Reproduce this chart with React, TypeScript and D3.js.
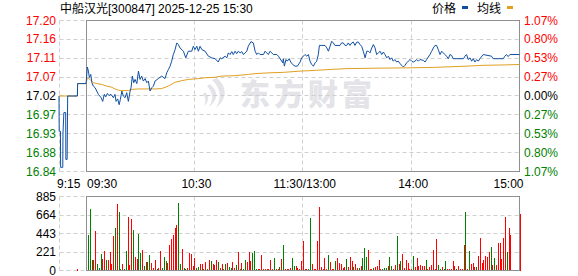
import React from 'react';
import * as d3 from 'd3';

const stockTitle = '中船汉光[300847] 2025-12-25 15:30';
const legendLabels = ['价格', '均线'];
const watermarkText = '东方财富';
const preClose = 17.02;
const pctRange = 0.0107;
const leftTickLabels = ['17.20', '17.16', '17.11', '17.07', '17.02', '16.97', '16.93', '16.88', '16.84'];
const rightTickLabels = ['1.07%', '0.80%', '0.53%', '0.27%', '0.00%', '0.27%', '0.53%', '0.80%', '1.07%'];
const timeLabels = ['9:15', '09:30', '10:30', '11:30/13:00', '14:00', '15:00'];
const timeLabelMinutes = [-15, 0, 60, 120, 180, 240];
const volumeTickLabels = ['885', '664', '443', '221', '0'];
const volumeMax = 885;

// pre-market (call auction) minutes relative to 09:30
const preTimes = [-15, -14.9, -14.2, -14.1, -12.9, -12.8, -12.3, -11.3, -11.2, -10.5, -10.2, -4.8, -4.7, 0];
const prePrices = [17.02, 16.935, 16.935, 16.848, 16.848, 16.93, 16.98, 16.98, 16.867, 16.867, 17.02, 17.02, 17.05, 17.05];
const preAvgTimes = [-15, -4.8, -4.7, 0];
const preAvgPrices = [17.02, 17.02, 17.05, 17.05];

// trading minutes: 0 = 09:30, 120 = 11:30/13:00, 240 = 15:00
const priceTimes = [
  0, 0.7, 1.3, 1.8, 2.6, 3.2, 4, 5, 5.9, 6.8, 8.3, 9.2, 10.1, 10.9, 11.8, 12.7, 13.8, 15.1, 16, 16.6,
  17.5, 18.3, 19, 19.8, 20.6, 21.6, 22.5, 23.4, 24.4, 24.9, 25.6, 26.4, 27.1, 28.1, 29, 29.9, 30.8, 31.7, 32.7, 33.6,
  34.5, 35.4, 36.4, 37.3, 38.2, 40, 41.9, 43.7, 44.7, 45.6, 46.5, 47.4, 48.3, 49.3, 50.2, 51.1, 52, 53.9, 55.2, 56.6,
  58.5, 59.4, 60.3, 61.3, 62.2, 63.1, 64.1, 65.9, 67.7, 69.6, 71.4, 73.2, 74.2, 75.1, 77, 77.9, 78.8, 79.7, 80.7, 81.5,
  82.5, 83.4, 84.3, 85.3, 86.2, 87.1, 88, 89, 89.8, 91.3, 92.6, 93.6, 94.5, 95.4, 96.3, 98.2, 99.1, 100, 100.9, 101.9,
  102.8, 103.7, 105.6, 106.5, 107.4, 108.3, 108.9, 109.2, 109.8, 110.7, 111.4, 112.5, 113.3, 114.4, 115.7, 117, 118.5, 119.4, 121.2, 122.2,
  123.1, 124, 124.9, 125.9, 126.8, 127.7, 128.6, 129.2, 130.5, 132.3, 133.3, 134.2, 135.1, 136, 136.9, 137.8, 140.6, 141.5, 142.4, 143.4,
  144.3, 145.2, 146.1, 147.1, 148, 148.9, 149.9, 150.8, 151.7, 152.6, 153.5, 154.5, 155.4, 156.3, 157.2, 158.2, 159.1, 160, 160.9, 161.8,
  162.8, 163.7, 164.6, 165.5, 166.5, 167.4, 168.3, 169.2, 170.1, 171, 172, 172.9, 173.8, 174.8, 175.7, 176.6, 177.5, 178.4, 179.4, 180.3,
  181.2, 182.1, 183.1, 184, 184.9, 186.7, 187.7, 188.6, 190.4, 191.4, 192.3, 193.2, 194.1, 195, 196, 196.9, 197.8, 198.7, 199.6, 200.6,
  201.5, 202.4, 203.3, 209, 209.8, 210.7, 211.6, 212.6, 213.5, 214.4, 215.3, 216.3, 217.2, 218.1, 219.9, 224.5, 225.4, 231, 231.9, 232.8,
  233.7, 234.7, 240,
];
const priceValues = [
  17.05, 17.09, 17.08, 17.065, 17.072, 17.052, 17.044, 17.04, 17.032, 17.024, 17.016, 17.007, 17.024, 17.018, 17.026, 17.021, 17.024, 17.016, 17.024, 17.007,
  17.013, 16.999, 17.012, 17.032, 17.02, 17.016, 17.028, 17.007, 17.032, 17.04, 17.068, 17.052, 17.06, 17.05, 17.08, 17.06, 17.068, 17.056, 17.062, 17.052,
  17.056, 17.032, 17.04, 17.044, 17.056, 17.062, 17.068, 17.062, 17.076, 17.084, 17.092, 17.104, 17.12, 17.132, 17.148, 17.144, 17.136, 17.128, 17.112, 17.128,
  17.128, 17.14, 17.132, 17.14, 17.128, 17.14, 17.132, 17.128, 17.116, 17.112, 17.11, 17.102, 17.112, 17.11, 17.116, 17.112, 17.124, 17.12, 17.127, 17.12,
  17.128, 17.122, 17.128, 17.124, 17.127, 17.12, 17.124, 17.128, 17.14, 17.151, 17.148, 17.128, 17.12, 17.124, 17.12, 17.12, 17.128, 17.124, 17.12, 17.128,
  17.124, 17.12, 17.12, 17.116, 17.11, 17.104, 17.1, 17.11, 17.092, 17.108, 17.104, 17.11, 17.102, 17.096, 17.092, 17.092, 17.102, 17.112, 17.12, 17.116,
  17.12, 17.104, 17.096, 17.092, 17.1, 17.104, 17.12, 17.142, 17.142, 17.142, 17.136, 17.128, 17.14, 17.152, 17.148, 17.142, 17.142, 17.148, 17.148, 17.142,
  17.142, 17.148, 17.142, 17.148, 17.15, 17.142, 17.15, 17.15, 17.144, 17.14, 17.128, 17.112, 17.128, 17.128, 17.124, 17.136, 17.144, 17.136, 17.12, 17.124,
  17.128, 17.12, 17.126, 17.12, 17.112, 17.116, 17.108, 17.112, 17.104, 17.108, 17.102, 17.104, 17.098, 17.094, 17.09, 17.094, 17.1, 17.104, 17.108, 17.104,
  17.102, 17.104, 17.108, 17.104, 17.108, 17.106, 17.102, 17.108, 17.12, 17.128, 17.136, 17.142, 17.142, 17.132, 17.12, 17.128, 17.124, 17.12, 17.116, 17.11,
  17.12, 17.118, 17.11, 17.11, 17.116, 17.12, 17.108, 17.112, 17.104, 17.11, 17.102, 17.108, 17.104, 17.11, 17.12, 17.116, 17.11, 17.11, 17.116, 17.12,
  17.115, 17.12, 17.12,
];

const avgTimes = [0, 0.7, 2.2, 4, 5.9, 8.7, 10.5, 14.2, 16.1, 17.9, 19.8, 23.4, 25.3, 29, 38.2, 41.9, 45.6, 49.3, 53, 56.6,
  62.2, 65.9, 71.4, 75.1, 82.5, 89.8, 93.6, 101.9, 109.2, 118.5, 127.7, 135.1, 144.3, 159.1, 179.4, 192.3, 210.7, 219.9, 231.9, 240];
const avgValues = [17.05, 17.064, 17.06, 17.052, 17.05, 17.048, 17.045, 17.041, 17.037, 17.034, 17.033, 17.033, 17.036, 17.037, 17.037, 17.038, 17.044, 17.053, 17.057, 17.06,
  17.062, 17.064, 17.065, 17.068, 17.069, 17.072, 17.074, 17.076, 17.077, 17.08, 17.082, 17.084, 17.086, 17.087, 17.088, 17.089, 17.092, 17.094, 17.095, 17.096];

// per-minute volume (lots), minute 0..240
const volumes = [
  718, 419, 738, 128, 128, 478, 80, 32, 199, 140,
  239, 128, 120, 219, 72, 407, 510, 797, 694, 20,
  72, 20, 231, 638, 60, 618, 490, 167, 140, 431,
  215, 247, 48, 96, 96, 191, 88, 32, 120, 20,
  24, 235, 24, 167, 108, 88, 299, 379, 419, 510,
  550, 813, 72, 259, 32, 16, 24, 211, 199, 56,
  148, 32, 40, 72, 72, 16, 96, 20, 120, 108,
  72, 60, 120, 96, 28, 72, 12, 72, 84, 36,
  32, 96, 32, 60, 219, 12, 84, 16, 120, 96,
  227, 108, 207, 239, 12, 12, 12, 191, 12, 12,
  12, 12, 120, 12, 144, 12, 12, 36, 132, 299,
  12, 12, 16, 24, 155, 48, 52, 32, 12, 108,
  347, 12, 12, 12, 622, 72, 12, 12, 347, 754,
  40, 12, 144, 12, 191, 96, 12, 12, 108, 144,
  84, 72, 24, 36, 132, 40, 167, 108, 36, 72,
  24, 24, 48, 155, 275, 167, 251, 12, 12, 24,
  36, 48, 120, 12, 12, 24, 32, 48, 167, 48,
  12, 60, 407, 72, 108, 203, 24, 120, 84, 12,
  12, 179, 36, 155, 48, 60, 48, 48, 120, 12,
  36, 60, 251, 12, 371, 60, 12, 36, 12, 108,
  12, 12, 12, 108, 48, 12, 48, 12, 12, 299,
  694, 12, 239, 72, 84, 36, 36, 179, 383, 84,
  120, 179, 167, 227, 287, 60, 155, 60, 323, 323,
  132, 383, 634, 227, 514, 419, 0, 0, 0, 0,
  670,
];
// minute direction per bar: r = up (red), g = down (green)
const volumeDirs =
  'rgggrrgggr' + 'rgrrrrgrgg' + 'rggrrrgrrg' + 'grgrggrrrg' + 'rrgggrrrrr' +
  'rggrggrrrr' + 'rggrrgrgrg' + 'rrrgrrggrg' + 'grrgrgrggr' + 'rrgggrrrrr' +
  'rrrrgrrgrg' + 'rrrrggrrrr' + 'rrrggrrrrr' + 'rrrrgrrrgr' + 'rrrrgrrrgr' +
  'rgrgggrrrg' + 'rrrrgggrgg' + 'rrgrgrrrrr' + 'rgrrrrrrgr' + 'rrrrrggrgg' +
  'rrrrrgrrrr' + 'grgrrrgrrr' + 'rrrrgrgrrr' + 'rrrgrrrrrr' + 'r';
const preVolumeTimes = [-5];
const preVolumes = [12];

const RED = '#ff0000';
const GREEN = '#008000';
const BLUE = '#0f4fa2';
const GOLD = '#e0a020';
const GRID = '#cfcfcf';
const FRAME = '#8f8f8f';
const MARK = '#e3e3e8';
const FONT = "'Liberation Sans', Arial, 'Noto Sans CJK SC', sans-serif";

export default function App() {
  const W = 578;
  const H = 276;
  const x = d3.scaleLinear().domain([-15, 240]).range([59, 519.5]);
  const y = d3.scaleLinear()
    .domain([preClose * (1 - pctRange), preClose * (1 + pctRange)])
    .range([171.5, 20.5]);
  const v = d3.scaleLinear().domain([0, volumeMax]).range([270.5, 196.5]);

  const px = (val: number) => Math.round(val - 0.5) + 0.5;
  const left = px(x(0));
  const right = 519.5;
  const preLeft = px(x(-15));

  const line = d3.line<[number, number]>().x((d) => x(d[0])).y((d) => y(d[1]));
  const prePath = line(preTimes.map((t, i) => [t, prePrices[i]] as [number, number])) || '';
  const preAvgPath = line(preAvgTimes.map((t, i) => [t, preAvgPrices[i]] as [number, number])) || '';
  const pricePath = line(priceTimes.map((t, i) => [t, priceValues[i]] as [number, number])) || '';
  const avgPath = line(avgTimes.map((t, i) => [t, avgValues[i]] as [number, number])) || '';

  const levels = leftTickLabels.map((_, i) => preClose * (1 + (pctRange * (4 - i)) / 4));
  const volLevels = volumeTickLabels.map((_, i) => (volumeMax * (4 - i)) / 4);
  const labelColor = (i: number) => (i < 4 ? RED : i === 4 ? '#000' : GREEN);
  const vGrid = [60, 120, 180];

  return (
    <svg width={W} height={H} style={{ position: 'absolute', left: 0, top: 0, background: '#fff' }} fontFamily={FONT}>
      <rect x={0} y={0} width={W} height={H} fill="#fff" />
      {/* title & legend */}
      <text x={60} y={13} fontSize={12} fill="#000">{stockTitle}</text>
      <text x={432} y={13} fontSize={12} fill="#000">{legendLabels[0]}</text>
      <rect x={462} y={6} width={6} height={3} fill={BLUE} />
      <text x={477} y={13} fontSize={12} fill="#000">{legendLabels[1]}</text>
      <rect x={507} y={6} width={6} height={3} fill={GOLD} />

      {/* watermark */}
      <g fill={MARK}>
        <path d="M217,78 Q233,93 216,108 Q225,92 212,80 Z" />
        <path d="M210,84 Q223,96 209,107 Q216,95 207,86 Z" />
        <path d="M205,92 Q212,99 204,106 Q207,99 203,94 Z" />
      </g>
      <text x={240} y={105} fontSize={30} fontWeight={900} letterSpacing={4}
        fill={MARK} fontFamily="'Noto Sans CJK SC', sans-serif">{watermarkText}</text>

      {/* main grid */}
      {levels.map((lv, i) => (
        <line key={'h' + i} x1={preLeft} x2={right} y1={px(y(lv))} y2={px(y(lv))} stroke={GRID} strokeDasharray="4,3" />
      ))}
      <line x1={preLeft} x2={preLeft} y1={px(y(levels[0]))} y2={px(y(levels[8]))} stroke={GRID} strokeDasharray="4,3" />
      {vGrid.map((m) => (
        <line key={'v' + m} x1={px(x(m))} x2={px(x(m))} y1={px(y(levels[0]))} y2={px(y(levels[8]))} stroke={GRID} strokeDasharray="4,3" />
      ))}
      <rect x={left} y={px(y(levels[0]))} width={right - left} height={px(y(levels[8])) - px(y(levels[0]))} fill="none" stroke={FRAME} />

      {/* left & right labels */}
      {leftTickLabels.map((t, i) => (
        <text key={'l' + i} x={56} y={y(levels[i]) + 4} fontSize={12} textAnchor="end" fill={labelColor(i)}>{t}</text>
      ))}
      {rightTickLabels.map((t, i) => (
        <text key={'r' + i} x={524} y={y(levels[i]) + 4} fontSize={12} fill={labelColor(i)}>{t}</text>
      ))}

      {/* lines */}
      <path d={preAvgPath} fill="none" stroke={GOLD} strokeWidth={1} />
      <path d={avgPath} fill="none" stroke={GOLD} strokeWidth={1} />
      <path d={prePath} fill="none" stroke={BLUE} strokeWidth={1} />
      <path d={pricePath} fill="none" stroke={BLUE} strokeWidth={1} />

      {/* time labels */}
      {timeLabels.map((t, i) => {
        const m = timeLabelMinutes[i];
        let anchor: 'start' | 'middle' | 'end' = 'middle';
        let tx = x(m) + 2;
        if (i === 0) { anchor = 'start'; tx = x(m) - 2; }
        if (i === 1) { anchor = 'start'; tx = x(m) + 1; }
        if (i === timeLabels.length - 1) { anchor = 'end'; tx = x(m) + 4; }
        return (
          <text key={'t' + i} x={tx} y={188} fontSize={12} textAnchor={anchor} fill="#000">{t}</text>
        );
      })}

      {/* volume grid */}
      {volLevels.map((lv, i) => (
        <line key={'vh' + i} x1={preLeft} x2={right} y1={px(v(lv))} y2={px(v(lv))} stroke={GRID} strokeDasharray="4,3" />
      ))}
      <line x1={preLeft} x2={preLeft} y1={px(v(volumeMax))} y2={px(v(0))} stroke={GRID} strokeDasharray="4,3" />
      {vGrid.map((m) => (
        <line key={'vv' + m} x1={px(x(m))} x2={px(x(m))} y1={px(v(volumeMax))} y2={px(v(0))} stroke={GRID} strokeDasharray="4,3" />
      ))}
      {volumeTickLabels.map((t, i) => (
        <text key={'vl' + i} x={56} y={v(volLevels[i]) + 4} fontSize={12} textAnchor="end" fill="#000">{t}</text>
      ))}

      {/* volume bars */}
      {preVolumes.map((vol, i) => (
        <rect key={'pv' + i} x={Math.round(x(preVolumeTimes[i]))} y={v(vol)} width={1} height={v(0) - v(vol)} fill={RED} shapeRendering="crispEdges" />
      ))}
      {volumes.map((vol, i) => (
        vol > 0 ? (
          <rect key={'vb' + i} x={Math.round(x(i))} y={v(vol)} width={1} height={v(0) - v(vol)}
            fill={volumeDirs[i] === 'g' ? GREEN : RED} shapeRendering="crispEdges" />
        ) : null
      ))}
      <rect x={left} y={px(v(volumeMax))} width={right - left} height={px(v(0)) - px(v(volumeMax))} fill="none" stroke={FRAME} />
    </svg>
  );
}
